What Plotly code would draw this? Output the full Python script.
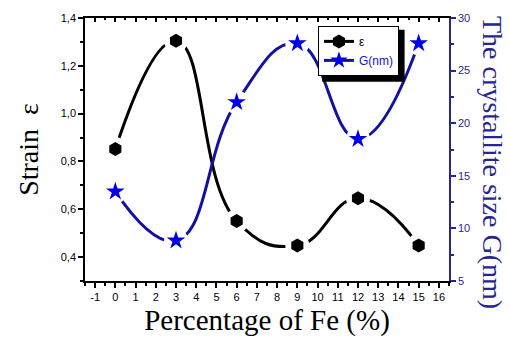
import plotly.graph_objects as go

pct_fe = [0, 3, 6, 9, 12, 15]
strain = [0.852, 1.305, 0.551, 0.448, 0.646, 0.448]
size_nm = [13.5, 8.84, 22.0, 27.6, 18.5, 27.6]

x_ticks = list(range(-1, 17))
x_ticktext = [str(v) for v in x_ticks]
y_ticks = [0.4, 0.6, 0.8, 1.0, 1.2, 1.4]
y2_ticks = [5, 10, 15, 20, 25, 30]

BLK = "#000000"
BLUE_LINE = "#12129e"
BLUE_MK = "#0000e6"
NAVY = "#26268f"
SERIF = "Liberation Serif"
SANS = "Liberation Sans"

fig = go.Figure()

fig.add_trace(go.Scatter(x=pct_fe, y=strain, mode="lines", yaxis="y",
                         line=dict(color=BLK, width=3, shape="spline", smoothing=1.3),
                         showlegend=False, hoverinfo="skip"))
fig.add_trace(go.Scatter(x=pct_fe, y=strain, mode="markers", yaxis="y",
                         marker=dict(symbol="circle", size=24, color="white"),
                         showlegend=False, hoverinfo="skip"))
fig.add_trace(go.Scatter(x=pct_fe, y=strain, mode="markers", yaxis="y",
                         marker=dict(symbol="hexagon", size=14, color=BLK),
                         showlegend=False))

fig.add_trace(go.Scatter(x=pct_fe, y=size_nm, mode="lines", yaxis="y2",
                         line=dict(color=BLUE_LINE, width=3, shape="spline", smoothing=1.3),
                         showlegend=False, hoverinfo="skip"))
fig.add_trace(go.Scatter(x=pct_fe, y=size_nm, mode="markers", yaxis="y2",
                         marker=dict(symbol="circle", size=24, color="white"),
                         showlegend=False, hoverinfo="skip"))
fig.add_trace(go.Scatter(x=pct_fe, y=size_nm, mode="markers", yaxis="y2",
                         marker=dict(symbol="star", size=14, color=BLUE_MK),
                         showlegend=False))

fig.add_trace(go.Scatter(x=[None], y=[None], mode="lines+markers", name="ε",
                         line=dict(color=BLK, width=3),
                         marker=dict(symbol="hexagon", size=14, color=BLK)))
fig.add_trace(go.Scatter(x=[None], y=[None], mode="lines+markers", yaxis="y2",
                         name="<span style='color:#1414c8'>G(nm)</span>",
                         line=dict(color=BLUE_LINE, width=3),
                         marker=dict(symbol="star", size=13, color=BLUE_MK)))
fig.add_trace(go.Scatter(x=[None], y=[None], xaxis="x2", yaxis="y",
                         showlegend=False, hoverinfo="skip"))

tickfont = dict(family=SANS, size=11, color=BLK)

fig.update_layout(
    width=509, height=347,
    margin=dict(l=85, r=60, t=14, b=66),
    paper_bgcolor="white", plot_bgcolor="white",
    separators=", ",
    xaxis=dict(range=[-1.5, 16.5], tickmode="array", tickvals=x_ticks, ticktext=x_ticktext,
               showline=True, linecolor=BLK, linewidth=1.5,
               ticks="outside", ticklen=5, tickcolor=BLK, tickwidth=1.5,
               minor=dict(dtick=0.5, tick0=-1.5, ticks="outside", ticklen=3, tickcolor=BLK),
               showgrid=False, zeroline=False, tickfont=tickfont,
               title=dict(text="Percentage of Fe (%)", font=dict(family=SERIF, size=29, color=BLK),
                          standoff=8)),
    xaxis2=dict(range=[-1.5, 16.5], overlaying="x", side="top", anchor="y",
                tickmode="array", tickvals=x_ticks, showticklabels=False,
                showline=True, linecolor=BLK, linewidth=1.5,
                ticks="inside", ticklen=4, tickcolor=BLK, tickwidth=1.5,
                minor=dict(dtick=0.5, tick0=-1.5, ticks="inside", ticklen=2, tickcolor=BLK),
                showgrid=False, zeroline=False),
    yaxis=dict(range=[0.3, 1.4], tickmode="array", tickvals=y_ticks, tickformat=".1f",
               showline=True, linecolor=BLK, linewidth=1.5,
               ticks="outside", ticklen=5, tickcolor=BLK, tickwidth=1.5,
               minor=dict(dtick=0.1, tick0=0.3, ticks="outside", ticklen=3, tickcolor=BLK),
               showgrid=False, zeroline=False, tickfont=tickfont,
               title=dict(text="Strain  ε", font=dict(family=SERIF, size=28, color=BLK),
                          standoff=14)),
    yaxis2=dict(range=[5, 30], overlaying="y", side="right", anchor="x",
                tickmode="array", tickvals=y2_ticks,
                showline=True, linecolor=NAVY, linewidth=1.5,
                ticks="outside", ticklen=5, tickcolor=NAVY, tickwidth=1.5,
                minor=dict(dtick=2.5, tick0=5, ticks="outside", ticklen=3, tickcolor=NAVY),
                showgrid=False, zeroline=False,
                tickfont=dict(family=SANS, size=11, color=NAVY)),
    legend=dict(x=0.64, y=0.97, xanchor="left", yanchor="top",
                bgcolor="white", bordercolor=BLK, borderwidth=1,
                font=dict(family=SANS, size=12, color=BLK),
                tracegroupgap=0, itemwidth=30),
    shapes=[dict(type="rect", xref="paper", yref="paper", layer="above",
                 x0=0.652, x1=0.878, y0=0.758, y1=0.955,
                 fillcolor=BLK, line=dict(width=0))],
    annotations=[dict(text="The crystallite size G(nm)", textangle=90,
                      xref="paper", yref="paper", x=1.12, y=0.45,
                      xanchor="center", yanchor="middle", showarrow=False,
                      font=dict(family=SERIF, size=28, color=NAVY))],
)

fig.write_html("out.html")
